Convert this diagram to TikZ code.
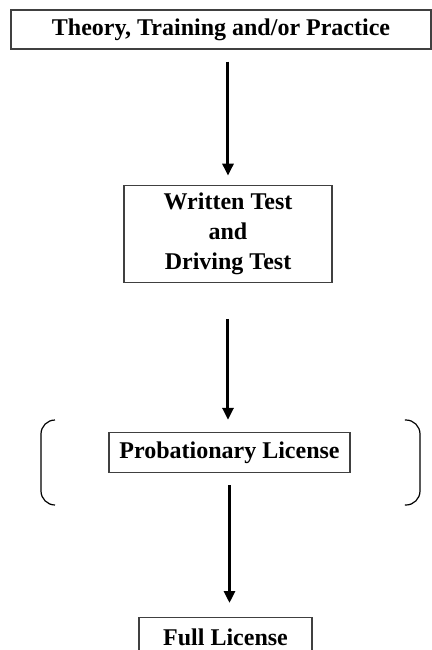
\documentclass[tikz,border=0pt]{standalone}
\usepackage{fontspec}
\setmainfont{Liberation Serif}
\usetikzlibrary{arrows.meta,positioning}

\begin{document}
\begin{tikzpicture}[x=0.5pt,y=-0.5pt,>={Triangle[length=6pt,width=5.5pt]}]
    \tikzstyle{stage}=[rectangle,draw=black!75,line width=0.6pt,font=\bfseries\fontsize{12}{15}\selectfont,
    inner sep=0pt,align=center]

    \tikzstyle{flow}=[->,line width=1.5pt]

    \tikzstyle{bracket}=[line width=0.6pt,rounded corners=7pt]

    \useasboundingbox (0,0) rectangle (432,650);

    \node[stage,minimum width=210pt,minimum height=19.5pt](theory) at (221,29.5){Theory, Training and/or Practice};
    \node[stage,minimum width=104pt,minimum height=48.5pt](written)[below=67.5pt of theory,xshift=3.5pt]{Written Test \\ and \\ Driving Test};
    \node[stage,minimum width=120.5pt,minimum height=20pt](prob)[below=74.5pt of written,xshift=0.75pt]{Probationary License};
    \node[stage,minimum width=86.5pt,minimum height=20pt](full)[below=72pt of prob,xshift=-2pt]{Full License};

    \draw[flow,shorten <=6pt,shorten >=4.5pt] (written.north |- theory.south) -- (written.north);
    \draw[flow,shorten <=18pt,shorten >=6pt] (written.south) -- (written.south |- prob.north);
    \draw[flow,shorten <=6pt,shorten >=7pt] (prob.south) -- (prob.south |- full.north);

    % brackets round the probationary stage
    \draw[bracket] (55,420) -- (41,420) -- (41,505) -- (55,505);
    \draw[bracket] (405,420) -- (420,420) -- (420,505) -- (405,505);
  \end{tikzpicture}
\end{document}
